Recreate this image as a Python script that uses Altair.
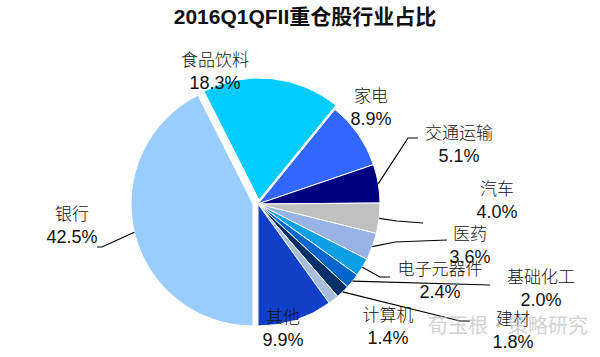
import math
import pandas as pd
import altair as alt

# ---- data ----
sectors = ["银行", "食品饮料", "家电", "交通运输", "汽车", "医药",
           "电子元器件", "基础化工", "建材", "计算机", "其他"]
shares = [42.5, 18.3, 8.9, 5.1, 4.0, 3.6, 2.4, 2.0, 1.8, 1.4, 9.9]
title_text = "2016Q1QFII重仓股行业占比"

# ---- style / layout ----
colors = ["#99CCFF", "#00CCFF", "#3366FF", "#000080", "#C0C0C0", "#98B4E6",
          "#0AA0E6", "#0066CC", "#00306A", "#A8BEDC", "#1040C8"]
CX, CY, R = 258, 204, 122
explode = {"银行": (-5, 0), "食品饮料": (1, -4)}
# label centre (name line); percentage sits one line below
name_pos = {
    "银行": (72, 215), "食品饮料": (215, 61), "家电": (371, 97),
    "交通运输": (459, 134), "汽车": (497, 190), "医药": (470, 235),
    "电子元器件": (440, 270), "基础化工": (541, 278), "建材": (513, 320),
    "计算机": (388, 316), "其他": (283, 318),
}
line_gap = 23
# leader line bends/ends (start point is the slice edge)
leader_pts = {
    "银行": [(102, 247), (97, 247)],
    "交通运输": [(408, 138), (418, 138)],
    "汽车": [(397, 221), (423, 223)],
    "医药": [(395, 242), (447, 240)],
    "电子元器件": [(380, 277), (390, 277)],
    "基础化工": [(490, 285)],
    "建材": [(460, 321), (470, 321)],
}

total = sum(shares)
rows = []
cum = 0.0
for s, v in zip(sectors, shares):
    start = cum
    end = cum + v
    cum = end
    mid = math.pi + 2 * math.pi * (start + end) / 2 / total
    dx, dy = explode.get(s, (0, 0))
    nx, ny = name_pos[s]
    rows.append(dict(sector=s, share=v, start=start, end=end,
                     cx=CX + dx, cy=CY + dy, mid=mid,
                     nx=nx, ny=ny, py=ny + line_gap,
                     pct=f"{v:.1f}%"))
df = pd.DataFrame(rows)

lead_rows = []
for r in rows:
    if r["sector"] not in leader_pts:
        continue
    ex = r["cx"] + R * math.sin(r["mid"])
    ey = r["cy"] - R * math.cos(r["mid"])
    pts = [(ex, ey)] + leader_pts[r["sector"]]
    for i, (x, y) in enumerate(pts):
        lead_rows.append(dict(sector=r["sector"], seq=i, x=x, y=y))
lead_df = pd.DataFrame(lead_rows)

arcs = alt.Chart(df).mark_arc(radius=R, stroke="white", strokeWidth=1).encode(
    theta=alt.Theta("start:Q", scale=alt.Scale(domain=[0, total], range=[math.pi, 3 * math.pi])),
    theta2="end:Q",
    x=alt.X("cx:Q", scale=None, axis=None),
    y=alt.Y("cy:Q", scale=None, axis=None),
    color=alt.Color("sector:N", scale=alt.Scale(domain=sectors, range=colors), legend=None),
)

leaders = alt.Chart(lead_df).mark_line(color="black", strokeWidth=1.2).encode(
    x=alt.X("x:Q", scale=None, axis=None),
    y=alt.Y("y:Q", scale=None, axis=None),
    detail="sector:N",
    order="seq:Q",
)

names = alt.Chart(df).mark_text(
    font="Noto Sans CJK SC", fontSize=17, fontWeight=300, color="#111111",
    align="center", baseline="middle",
).encode(
    x=alt.X("nx:Q", scale=None, axis=None),
    y=alt.Y("ny:Q", scale=None, axis=None),
    text="sector:N",
)

pcts = alt.Chart(df).mark_text(
    font="Liberation Sans", fontSize=18, color="#111111",
    align="center", baseline="middle",
).encode(
    x=alt.X("nx:Q", scale=None, axis=None),
    y=alt.Y("py:Q", scale=None, axis=None),
    text="pct:N",
)

watermark = alt.Chart(pd.DataFrame({"t": ["荀玉根·策略研究"]})).mark_text(
    font="Noto Sans CJK SC", fontSize=20, color="#c4c4c4", opacity=0.75,
    align="center", baseline="middle",
).encode(x=alt.value(508), y=alt.value(327), text="t:N")

title = alt.Chart(pd.DataFrame({"t": [title_text]})).mark_text(
    font="Liberation Sans, Noto Sans CJK SC", fontSize=21, fontWeight="bold",
    color="#111111", align="center", baseline="middle",
).encode(x=alt.value(305), y=alt.value(18), text="t:N")

chart = alt.layer(arcs, leaders, names, pcts, watermark, title).properties(
    width=600, height=357,
    autosize=alt.AutoSizeParams(type="none"),
    padding=0,
).configure_view(stroke=None)

chart.save("out.html", embed_options={"renderer": "svg", "actions": False})
